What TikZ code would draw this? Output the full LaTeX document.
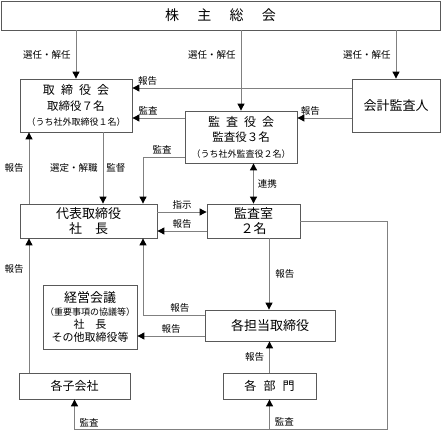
\documentclass[tikz,border=0pt]{standalone}
\usepackage{fontspec}
\setmainfont{Noto Sans CJK JP}
\usetikzlibrary{arrows.meta}
\tikzset{
    >={Triangle[length=7pt,width=7pt,color=black]},
    block/.style={
           rectangle,
           draw=black!65, line width=0.8pt,
           inner sep=2pt,
           align=center,
           font=\fontsize{12}{15.5}\selectfont,
           },
    lbl/.style={
           font=\fontsize{9.5}{11}\selectfont,
           inner sep=2pt,
           },
    conn/.style={
           draw=black!50, line width=0.9pt, ->,
           },
}
\newcommand{\kakko}[1]{{\fontsize{9}{11}\selectfont #1}}

\begin{document}
\begin{tikzpicture}[x=1pt,y=-1pt]
	\useasboundingbox (0,0) rectangle (441,430);
	% boxes
	\node[block, minimum width=439pt, minimum height=29pt, font=\fontsize{14}{16}\selectfont] (soukai) at (220.5,15.5) {株\hspace{1.3em}主\hspace{1.3em}総\hspace{1.3em}会};
	\node[block, minimum width=112pt, minimum height=53pt] (tori) at (76,105.5) {
		取\hspace{0.5em}締\hspace{0.5em}役\hspace{0.5em}会\\
		{\fontsize{11.5}{15}\selectfont 取締役７名}\\
		\kakko{（うち社外取締役１名）}
	};
	\node[block, minimum width=88pt, minimum height=53pt, font=\fontsize{13}{15}\selectfont] (kaikei) at (396,105.5) {会計監査人};
	\node[block, minimum width=112pt, minimum height=52pt] (kansa) at (241,137) {
		監\hspace{0.5em}査\hspace{0.5em}役\hspace{0.5em}会\\
		{\fontsize{11.5}{15}\selectfont 監査役３名}\\
		\kakko{（うち社外監査役２名）}
	};
	\node[block, minimum width=137pt, minimum height=34pt, font=\fontsize{13}{15}\selectfont] (daihyo) at (88.5,221) {代表取締役\\社\hspace{1em}長};
	\node[block, minimum width=93pt, minimum height=34pt, font=\fontsize{13}{15}\selectfont] (kansashitsu) at (253.5,221) {監査室\\２名};
	\node[block, minimum width=94pt, minimum height=64pt, font=\fontsize{11}{13}\selectfont] (keiei) at (90,317) {
		{\fontsize{13}{14}\selectfont 経営会議}\\
		\kakko{（重要事項の協議等）}\\
		社\hspace{1em}長\\
		その他取締役等
	};
	\node[block, minimum width=130pt, minimum height=31pt, font=\fontsize{13}{15}\selectfont] (tanto) at (270,325.5) {各担当取締役};
	\node[block, minimum width=111pt, minimum height=26pt] (kogaisha) at (74.5,386) {各子会社};
	\node[block, minimum width=93pt, minimum height=26pt] (bumon) at (269.5,386) {各\hspace{0.6em}部\hspace{0.6em}門};
	\coordinate (kr) at (387,429);

	% shareholders
	\draw[conn] (soukai.south -| tori.north) -- (tori.north) node[lbl, midway, left=3pt] {選任・解任};
	\draw[conn] (soukai.south -| kansa.north) -- (kansa.north) node[lbl, pos=0.3, left=3pt] {選任・解任};
	\draw[conn] (soukai.south -| kaikei.north) -- (kaikei.north) node[lbl, midway, left=3pt] {選任・解任};

	% board level
	\draw[conn] ([yshift=17.5pt]kaikei.west) -- ([yshift=17.5pt]tori.east) node[lbl, pos=0.93, above] {報告};
	\draw[conn] ([yshift=19pt]kansa.west) -- ([yshift=-12.5pt]tori.east) node[lbl, pos=0.7, above] {監査};
	\draw[conn] ([yshift=-12.5pt]kaikei.west) -- ([yshift=19pt]kansa.east) node[lbl, pos=0.76, above] {報告};
	\draw[conn] ([xshift=27pt]tori.south) -- ([xshift=14.5pt]daihyo.north)
		node[lbl, midway, left=3pt] {選定・解職}
		node[lbl, midway, right=1pt] {監督};
	\draw[conn] ([xshift=-59.5pt]daihyo.north) -- ([xshift=-47pt]tori.south) node[lbl, midway, left=3pt] {報告};
	\draw[conn] ([yshift=-20pt]kansa.west) -| ([xshift=54.5pt]daihyo.north) node[lbl, pos=0.27, above] {監査};
	\draw[conn, <->] (kansashitsu.north |- kansa.south) -- (kansashitsu.north) node[lbl, midway, right=2pt] {連携};

	% audit office
	\draw[conn] ([yshift=9pt]daihyo.east) -- ([yshift=9pt]kansashitsu.west) node[lbl, midway, above] {指示};
	\draw[conn] ([yshift=-10pt]kansashitsu.west) -- ([yshift=-10pt]daihyo.east) node[lbl, midway, above] {報告};
	\draw[conn] ([xshift=15.5pt]kansashitsu.south) -- ([xshift=-1pt]tanto.north) node[lbl, midway, right=4pt] {報告};

	% executives
	\draw[conn] ([yshift=10.5pt]tanto.west) -| ([xshift=54.5pt]daihyo.south) node[lbl, pos=0.2, above] {報告};
	\draw[conn] ([yshift=-10.5pt]tanto.west) -- ([yshift=-19pt]keiei.east) node[lbl, midway, above] {報告};
	\draw[conn] (bumon.north) -- (bumon.north |- tanto.south) node[lbl, midway, left=3pt] {報告};
	\draw[conn] ([xshift=-45.5pt]kogaisha.north) -- ([xshift=-59.5pt]daihyo.south) node[lbl, pos=0.77, left=3pt] {報告};

	% audit of subsidiaries and departments
	\draw[conn] (kansashitsu.east) -| (kr) -| (kogaisha.south);
	\path (kogaisha.south |- kr) node[lbl, above right, xshift=3pt] {監査};
	\draw[conn] (bumon.south |- kr) -- (bumon.south) node[lbl, pos=0, above right, xshift=3pt] {監査};
\end{tikzpicture}
\end{document}
